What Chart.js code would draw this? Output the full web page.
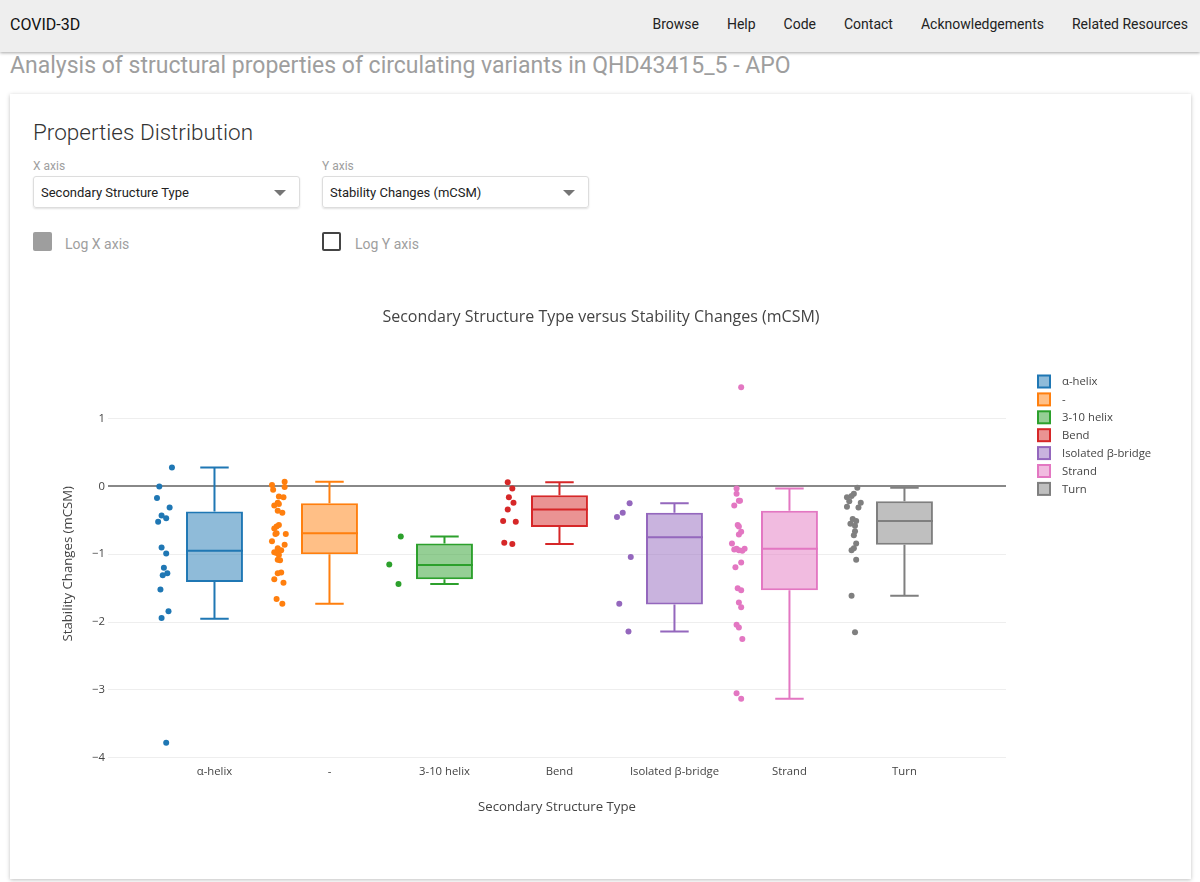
<!DOCTYPE html>
<html>
<head>
<meta charset="utf-8">
<title>COVID-3D</title>
<script src="https://cdn.jsdelivr.net/npm/chart.js@4.4.1/dist/chart.umd.min.js"></script>
<style>
  body { margin: 0; width: 1200px; height: 882px; overflow: hidden; position: relative; background: #fff; font-family: Roboto, sans-serif; }
  .nav { height: 52px; box-sizing: border-box; padding-bottom: 4px; background: #eee; box-shadow: 0 1px 3px rgba(0,0,0,0.35); display: flex; align-items: center; position: relative; z-index: 3; }
  .brand { margin-left: 10px; font-size: 16px; color: #111; }
  .links { margin-left: auto; margin-right: -2px; display: flex; }
  .links a { color: #222; text-decoration: none; font-size: 14px; padding: 0 14px; }
  h1 { position: absolute; left: 10px; top: 52px; margin: 0; font-weight: 400; font-size: 23px; line-height: 28px; color: #9e9e9e; }
  .card { position: absolute; left: 10px; top: 94px; width: 1181px; height: 785px; background: #fff; box-shadow: 0 1px 4px rgba(0,0,0,0.25); }
  .card h2 { position: absolute; left: 23px; top: 25px; margin: 0; font-weight: 300; font-size: 22.5px; line-height: 26px; color: #333; }
  .lbl { position: absolute; top: 65px; font-size: 12px; color: #9e9e9e; }
  .sel { position: absolute; top: 82px; width: 265px; height: 30px; border: 1px solid #ddd; border-radius: 3px; box-shadow: 0 1px 2px rgba(0,0,0,0.12); font-size: 13px; color: #222; line-height: 32px; text-indent: 7px; }
  .sel:after { content: ""; position: absolute; right: 13px; top: 13px; border-left: 6px solid transparent; border-right: 6px solid transparent; border-top: 6px solid #757575; }
  .chk { position: absolute; top: 138px; width: 19px; height: 19px; border-radius: 2px; box-sizing: border-box; }
  .chk.on { background: #9e9e9e; }
  .chk.off { border: 2px solid #444; }
  .chklbl { position: absolute; top: 142px; font-size: 14px; color: #9e9e9e; }
  #wrap { position: absolute; left: 0; top: 280px; width: 1200px; height: 560px; z-index: 2; }
</style>
</head>
<body>
<div class="nav">
  <span class="brand">COVID-3D</span>
  <div class="links">
    <a href="#">Browse</a><a href="#">Help</a><a href="#">Code</a><a href="#">Contact</a><a href="#">Acknowledgements</a><a href="#">Related Resources</a>
  </div>
</div>
<h1>Analysis of structural properties of circulating variants in QHD43415_5 - APO</h1>
<div class="card">
  <h2>Properties Distribution</h2>
  <div class="lbl" style="left:23px">X axis</div>
  <div class="sel" style="left:23px">Secondary Structure Type</div>
  <div class="lbl" style="left:312px">Y axis</div>
  <div class="sel" style="left:312px">Stability Changes (mCSM)</div>
  <div class="chk on" style="left:23px"></div>
  <div class="chklbl" style="left:55px">Log X axis</div>
  <div class="chk off" style="left:312px"></div>
  <div class="chklbl" style="left:345px">Log Y axis</div>
</div>
<div id="wrap"><canvas id="myChart"></canvas></div>

<script>
var categories = ["α-helix", "-", "3-10 helix", "Bend", "Isolated β-bridge", "Strand", "Turn"];
var colors = ["#1f77b4", "#ff7f0e", "#2ca02c", "#d62728", "#9467bd", "#e377c2", "#7f7f7f"];
var yTicks = [-4, -3, -2, -1, 0, 1];

// stability change of every variant, per structure type, and the sideways jitter of its dot
var helixVals = [0.28, 0.0, -0.17, -0.31, -0.43, -0.47, -0.52, -0.90, -0.99, -1.20, -1.28, -1.31, -1.52, -1.84, -1.94, -3.78];
var helixJit = [-0.37, -0.48, -0.50, -0.39, -0.46, -0.42, -0.49, -0.46, -0.42, -0.44, -0.41, -0.45, -0.47, -0.40, -0.46, -0.42];
var coilVals = [0.07, 0.02, -0.01, -0.05, -0.15, -0.16, -0.24, -0.28, -0.26, -0.36, -0.39, -0.57, -0.59, -0.62, -0.70, -0.69, -0.70, -0.81, -0.86, -0.91, -0.94, -0.97, -0.98, -1.01, -1.08, -1.09, -1.27, -1.28, -1.37, -1.42, -1.66, -1.73];
var coilJit = [-0.39, -0.50, -0.39, -0.49, -0.44, -0.40, -0.45, -0.48, -0.44, -0.45, -0.41, -0.44, -0.46, -0.48, -0.47, -0.46, -0.38, -0.50, -0.39, -0.45, -0.42, -0.48, -0.46, -0.44, -0.45, -0.43, -0.42, -0.45, -0.48, -0.40, -0.46, -0.41];
var h310Vals = [-0.74, -1.15, -1.44];
var h310Jit = [-0.38, -0.48, -0.40];
var bendVals = [0.06, -0.03, -0.16, -0.24, -0.34, -0.51, -0.52, -0.83, -0.85];
var bendJit = [-0.45, -0.41, -0.44, -0.40, -0.45, -0.49, -0.38, -0.48, -0.41];
var bridgeVals = [-0.25, -0.39, -0.45, -1.04, -1.73, -2.14];
var bridgeJit = [-0.39, -0.45, -0.50, -0.38, -0.48, -0.40];
var strandVals = [1.46, -0.03, -0.11, -0.21, -0.21, -0.28, -0.57, -0.59, -0.67, -0.71, -0.84, -0.92, -0.93, -0.94, -0.92, -0.95, -1.12, -1.19, -1.50, -1.53, -1.71, -1.78, -2.04, -2.08, -2.25, -3.05, -3.13];
var strandJit = [-0.42, -0.46, -0.46, -0.44, -0.43, -0.48, -0.45, -0.44, -0.42, -0.44, -0.50, -0.46, -0.48, -0.44, -0.39, -0.41, -0.42, -0.47, -0.45, -0.42, -0.44, -0.42, -0.46, -0.44, -0.41, -0.46, -0.42];
var turnVals = [-0.02, -0.11, -0.14, -0.16, -0.24, -0.22, -0.30, -0.31, -0.48, -0.51, -0.55, -0.58, -0.66, -0.72, -0.84, -0.94, -0.91, -1.08, -1.61, -2.15];
var turnJit = [-0.41, -0.44, -0.46, -0.50, -0.38, -0.48, -0.50, -0.40, -0.45, -0.42, -0.47, -0.43, -0.43, -0.44, -0.42, -0.46, -0.44, -0.42, -0.46, -0.43];

// box summaries
var whiskerLow = [-1.95, -1.73, -1.44, -0.85, -2.14, -3.13, -1.61];
var q1 = [-1.41, -1.00, -1.37, -0.60, -1.74, -1.53, -0.86];
var median = [-0.95, -0.69, -1.16, -0.34, -0.75, -0.92, -0.51];
var q3 = [-0.37, -0.25, -0.84, -0.13, -0.39, -0.36, -0.22];
var whiskerHigh = [0.28, 0.07, -0.74, 0.06, -0.25, -0.03, -0.02];

var allVals = [helixVals, coilVals, h310Vals, bendVals, bridgeVals, strandVals, turnVals];
var allJit = [helixJit, coilJit, h310Jit, bendJit, bridgeJit, strandJit, turnJit];

var BOX_W = 0.495;
var FONT = "'Open Sans', sans-serif";

function alpha(hex, a) {
  var n = parseInt(hex.slice(1), 16);
  return "rgba(" + (n >> 16) + "," + ((n >> 8) & 255) + "," + (n & 255) + "," + a + ")";
}

var datasets = [{
  type: "bar",
  label: "boxes",
  data: categories.map(function (c, i) { return {x: i, y: [q1[i], q3[i]]}; }),
  backgroundColor: colors.map(function (c) { return alpha(c, 0.5); }),
  borderColor: colors,
  borderWidth: 2,
  borderSkipped: false,
  categoryPercentage: 1,
  barPercentage: BOX_W,
  order: 2
}];
categories.forEach(function (cat, i) {
  datasets.push({
    type: "scatter",
    label: cat,
    data: allVals[i].map(function (v, j) { return {x: i + allJit[i][j], y: v}; }),
    pointRadius: 3,
    pointBorderWidth: 0,
    pointBackgroundColor: colors[i],
    order: 1
  });
});

// median, whiskers, title and legend
var boxExtras = {
  id: "boxExtras",
  afterDatasetsDraw: function (chart) {
    var ctx = chart.ctx, x = chart.scales.x, y = chart.scales.y;
    ctx.save();
    ctx.lineWidth = 2;
    categories.forEach(function (c, i) {
      var cx = x.getPixelForValue(i);
      var hb = x.getPixelForValue(i + BOX_W / 2) - cx;
      var hc = hb / 2;
      var ym = y.getPixelForValue(median[i]);
      var yq1 = y.getPixelForValue(q1[i]), yq3 = y.getPixelForValue(q3[i]);
      var ylo = y.getPixelForValue(whiskerLow[i]), yhi = y.getPixelForValue(whiskerHigh[i]);
      ctx.strokeStyle = colors[i];
      ctx.beginPath();
      ctx.moveTo(cx - hb, ym); ctx.lineTo(cx + hb, ym);
      ctx.moveTo(cx, yq3); ctx.lineTo(cx, yhi);
      ctx.moveTo(cx - hc, yhi); ctx.lineTo(cx + hc, yhi);
      ctx.moveTo(cx, yq1); ctx.lineTo(cx, ylo);
      ctx.moveTo(cx - hc, ylo); ctx.lineTo(cx + hc, ylo);
      ctx.stroke();
    });
    ctx.restore();
  },
  afterDraw: function (chart) {
    var ctx = chart.ctx, area = chart.chartArea;
    ctx.save();
    ctx.fillStyle = "#444";
    ctx.font = "16px " + FONT;
    ctx.textAlign = "center";
    ctx.textBaseline = "middle";
    ctx.fillText("Secondary Structure Type versus Stability Changes (mCSM)", chart.width / 2 + 1, 37);
    ctx.font = "11.3px " + FONT;
    ctx.textAlign = "left";
    categories.forEach(function (c, i) {
      var bx = area.right + 32, by = area.top + 14.5 + i * 17.9;
      ctx.fillStyle = alpha(colors[i], 0.5);
      ctx.fillRect(bx, by - 6, 12, 12);
      ctx.strokeStyle = colors[i];
      ctx.lineWidth = 2;
      ctx.strokeRect(bx, by - 6, 12, 12);
      ctx.fillStyle = "#444";
      ctx.fillText(c, bx + 24, by + 0.5);
    });
    ctx.restore();
  }
};

new Chart("myChart", {
  type: "scatter",
  data: {datasets: datasets},
  plugins: [boxExtras],
  options: {
    responsive: true,
    maintainAspectRatio: false,
    animation: false,
    layout: {padding: {left: 56, right: 194, top: 87, bottom: 21}},
    plugins: {legend: {display: false}, title: {display: false}, tooltip: {enabled: false}},
    scales: {
      x: {
        type: "linear",
        offset: false,
        min: -0.926,
        max: 6.883,
        afterFit: function (s) { s.height = 58.5; },
        afterBuildTicks: function (s) { s.ticks = categories.map(function (c, i) { return {value: i}; }); },
        grid: {display: false, drawTicks: false, offset: false},
        border: {display: false},
        ticks: {
          padding: 4, autoSkip: false, maxRotation: 0, color: "#444",
          font: {family: FONT, size: 11.3},
          callback: function (v) { return categories[v]; }
        },
        title: {display: true, text: "Secondary Structure Type", color: "#444", font: {family: FONT, size: 13.2}}
      },
      y: {
        min: -4.04,
        max: 1.76,
        afterFit: function (s) { s.width = 52; },
        afterBuildTicks: function (s) { s.ticks = yTicks.map(function (v) { return {value: v}; }); },
        grid: {
          drawTicks: false,
          color: function (c) { return c.tick && c.tick.value === 0 ? "#888" : "#eeeeee"; },
          lineWidth: function (c) { return c.tick && c.tick.value === 0 ? 2 : 1; }
        },
        border: {display: false},
        ticks: {
          padding: 3, color: "#444",
          font: {family: FONT, size: 11.3},
          callback: function (v) { return v < 0 ? "\u2212" + Math.abs(v) : String(v); }
        },
        title: {display: true, text: "Stability Changes (mCSM)", color: "#444", font: {family: FONT, size: 13.2}}
      }
    }
  }
});
</script>
</body>
</html>
